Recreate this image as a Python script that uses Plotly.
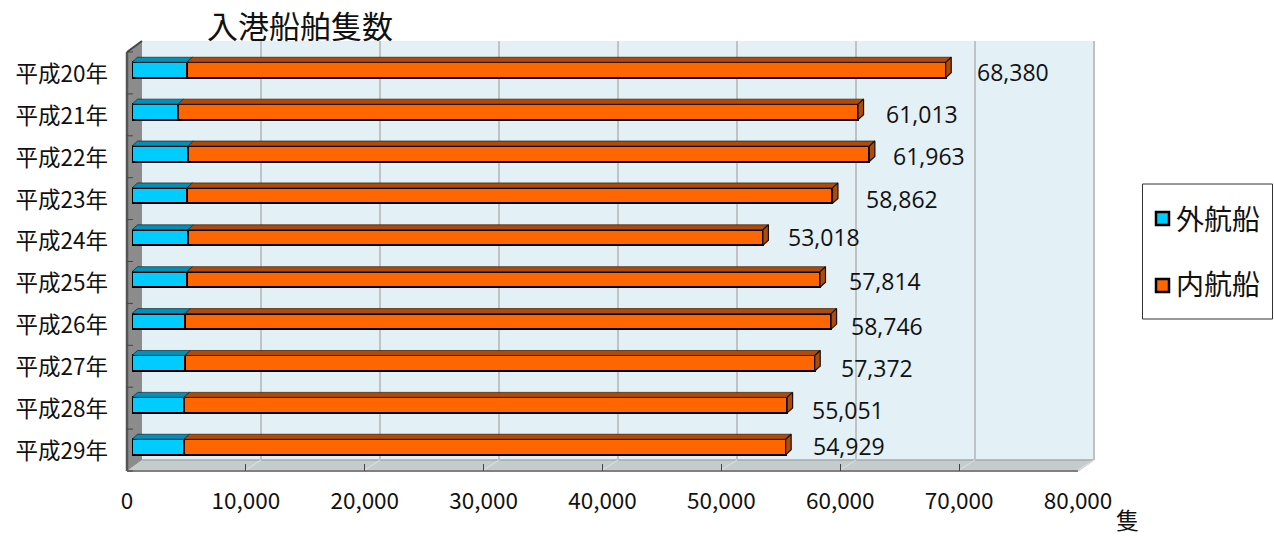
import plotly.graph_objects as go

years = ["平成20年","平成21年","平成22年","平成23年","平成24年","平成25年","平成26年","平成27年","平成28年","平成29年"]
foreign = [4620, 3870, 4700, 4620, 4700, 4620, 4450, 4450, 4370, 4370]
domestic = [63760, 57143, 57263, 54242, 48318, 53194, 54296, 52922, 50681, 50559]
totals = [68380, 61013, 61963, 58862, 53018, 57814, 58746, 57372, 55051, 54929]
x_ticks = [0, 10000, 20000, 30000, 40000, 50000, 60000, 70000, 80000]

# label placement relative to bar end (px)
label_dx = [67, 64, 60, 70, 61, 65, 56, 62, 61, 63]
label_dy = [2, 2, 2, 3, -1, 2, 5, 5, 5, -1]

W, H = 1274, 536
FX0, FX1, FY0, FY1 = 127, 1078, 52, 471   # front plane
BX0, BX1, BY0, BY1 = 142, 1094, 41, 460   # back wall
px = lambda x: x / W
py = lambda y: 1 - y / H
PXV = 0.0119  # px per unit on bar axis
BAR_W = 0.37
DX = 5.5 / PXV
DY = 5.0 / 41.9

def path(pts):
    return "M " + " L ".join(f"{px(a):.5f},{py(b):.5f}" for a, b in pts) + " Z"

shapes = [
    dict(type="rect", xref="paper", yref="paper", x0=px(BX0), x1=px(BX1), y0=py(BY1), y1=py(BY0),
         fillcolor="#E3F0F5", line=dict(width=0), layer="below"),
    dict(type="path", xref="paper", yref="paper",
         path=path([(FX0, FY1), (BX0, BY1), (BX1, BY1), (FX1, FY1)]),
         fillcolor="#C4CCCC", line=dict(width=0), layer="below"),
    dict(type="line", xref="paper", yref="paper", x0=px(BX0), x1=px(BX1), y0=py(BY1), y1=py(BY1),
         line=dict(color="#A3ABAD", width=1.5), layer="below"),
    dict(type="path", xref="paper", yref="paper",
         path=path([(FX0, FY0), (BX0, BY0), (BX0, BY1), (FX0, FY1)]),
         fillcolor="#8C8C8C", line=dict(width=0), layer="below"),
    dict(type="line", xref="paper", yref="paper", x0=px(FX0), x1=px(BX0), y0=py(FY0), y1=py(BY0),
         line=dict(color="#444444", width=2), layer="below"),
    dict(type="line", xref="paper", yref="paper", x0=px(FX0), x1=px(FX0), y0=py(FY0), y1=py(FY1),
         line=dict(color="#555555", width=2.5), layer="below"),
    dict(type="line", xref="paper", yref="paper", x0=px(FX0), x1=px(FX1), y0=py(FY1), y1=py(FY1),
         line=dict(color="#808080", width=2), layer="below"),
    dict(type="line", xref="paper", yref="paper", x0=px(FX1), x1=px(BX1), y0=py(FY1), y1=py(BY1),
         line=dict(color="#C8CFD2", width=1.5), layer="below"),
    dict(type="line", xref="paper", yref="paper", x0=px(BX1), x1=px(BX1), y0=py(BY0), y1=py(BY1),
         line=dict(color="#BFC3C6", width=2), layer="below"),
    # legend frame and swatches
    dict(type="rect", xref="paper", yref="paper", x0=px(1142.5), x1=px(1272.5), y0=py(319), y1=py(184),
         fillcolor="white", line=dict(color="#333333", width=1), layer="below"),
    dict(type="rect", xref="paper", yref="paper", x0=px(1156), x1=px(1169), y0=py(225), y1=py(212),
         fillcolor="#00CCFF", line=dict(color="#000000", width=2.5), layer="above"),
    dict(type="rect", xref="paper", yref="paper", x0=px(1156), x1=px(1169), y0=py(292), y1=py(279),
         fillcolor="#FF6600", line=dict(color="#000000", width=2.5), layer="above"),
]
# floor diagonals and left wall tick marks
for i in range(1, 9):
    fx = FX0 + (FX1 - FX0) * i / 8
    bx = BX0 + (BX1 - BX0) * i / 8
    shapes.append(dict(type="line", xref="paper", yref="paper", x0=px(fx), x1=px(bx), y0=py(FY1 - 1), y1=py(BY1),
                       line=dict(color="#DDE3E3", width=1), layer="below"))
for i in range(11):
    y = FY0 + (FY1 - FY0) * i / 10
    shapes.append(dict(type="line", xref="paper", yref="paper", x0=px(FX0), x1=px(FX0 + 6), y0=py(y), y1=py(y),
                       line=dict(color="#444444", width=1), layer="below"))

ys = list(range(len(years)))

def top_poly(starts, ends):
    xs, yy = [], []
    for y, a, b in zip(ys, starts, ends):
        t = y - BAR_W / 2
        xs += [a, b, b + DX, a + DX, a, None]
        yy += [t, t, t - DY, t - DY, t, None]
    return xs, yy

def side_poly(ends):
    xs, yy = [], []
    for y, b in zip(ys, ends):
        t, u = y - BAR_W / 2, y + BAR_W / 2
        xs += [b, b + DX, b + DX, b, b, None]
        yy += [t, t - DY, u - DY, u, t, None]
    return xs, yy

fig = go.Figure()
# grid subplot (back wall) and front tick subplot
fig.add_trace(go.Scatter(x=[None], y=[None], xaxis="x", yaxis="y", showlegend=False, hoverinfo="skip"))
fig.add_trace(go.Scatter(x=[None], y=[None], xaxis="x2", yaxis="y2", showlegend=False, hoverinfo="skip"))

tx, ty = top_poly([0] * 10, foreign)
fig.add_trace(go.Scatter(x=tx, y=ty, xaxis="x3", yaxis="y3", mode="lines", fill="toself", fillcolor="#0090B8",
                         line=dict(color="#0A2A35", width=0.7), showlegend=False, hoverinfo="skip"))
tx, ty = top_poly(foreign, totals)
fig.add_trace(go.Scatter(x=tx, y=ty, xaxis="x3", yaxis="y3", mode="lines", fill="toself", fillcolor="#B04A08",
                         line=dict(color="#3A1800", width=0.7), showlegend=False, hoverinfo="skip"))
tx, ty = side_poly(totals)
fig.add_trace(go.Scatter(x=tx, y=ty, xaxis="x3", yaxis="y3", mode="lines", fill="toself", fillcolor="#B04A08",
                         line=dict(color="#111111", width=1.2), showlegend=False, hoverinfo="skip"))
fig.add_trace(go.Bar(y=ys, x=foreign, orientation="h", width=BAR_W, xaxis="x3", yaxis="y3", name="外航船",
                     marker=dict(color="#00CCFF", line=dict(color="#000000", width=2)), showlegend=False))
fig.add_trace(go.Bar(y=ys, x=domestic, orientation="h", width=BAR_W, xaxis="x3", yaxis="y3", name="内航船",
                     marker=dict(color="#FF6600", line=dict(color="#000000", width=2)), showlegend=False))
# legend entries (swatches are drawn as squares inside the frame)
for name in ["外航船", "内航船"]:
    fig.add_trace(go.Scatter(x=[None], y=[None], xaxis="x3", yaxis="y3", mode="markers", name=name, legendgroup=name,
                             marker=dict(symbol="square", size=1, color="rgba(0,0,0,0)")))

CJK = "Noto Sans CJK JP"
annotations = [
    dict(x=t, y=y, xref="x3", yref="y3", text=f"{t:,}", showarrow=False, xanchor="center", yanchor="middle",
         xshift=dx, yshift=-dy, font=dict(family="Open Sans", size=23, color="#111111"))
    for y, t, dx, dy in zip(ys, totals, label_dx, label_dy)
]
annotations.append(dict(x=px(1127), y=py(518.5), xref="paper", yref="paper", text="隻", showarrow=False,
                        xanchor="center", yanchor="middle", font=dict(family=CJK, size=23, color="#111111")))

fig.update_layout(
    width=W, height=H, margin=dict(l=0, r=0, t=0, b=0, autoexpand=False), autosize=False,
    paper_bgcolor="white", plot_bgcolor="rgba(0,0,0,0)", barmode="stack", bargap=0.6,
    title=dict(text="入港船舶隻数", x=px(207), xanchor="left", xref="paper", y=py(27), yanchor="middle", yref="paper",
               font=dict(family=CJK, size=31, color="#111111")),
    shapes=shapes, annotations=annotations,
    legend=dict(x=px(1136), y=py(194), xref="container", yref="container", xanchor="left", yanchor="top",
                bgcolor="rgba(0,0,0,0)", borderwidth=0,
                tracegroupgap=26, entrywidth=60, entrywidthmode="pixels",
                font=dict(family=CJK, size=28, color="#111111")),
    # back wall gridlines
    xaxis=dict(domain=[px(BX0), px(BX1)], range=[0, 80000], tickvals=x_ticks, showgrid=True, gridcolor="#BFC3C6", gridwidth=2,
               showticklabels=False, zeroline=False, ticks="", anchor="y", fixedrange=True),
    yaxis=dict(domain=[py(BY1), py(BY0)], range=[0, 1], showgrid=False, showticklabels=False, zeroline=False, anchor="x", fixedrange=True),
    # front plane tick labels
    xaxis2=dict(domain=[px(FX0), px(FX1)], range=[0, 80000], tickvals=x_ticks, tickformat=",d", showgrid=False, zeroline=False,
                ticks="inside", ticklen=7, tickwidth=1, tickcolor="#444444", ticklabelstandoff=14, anchor="y2", showline=False,
                tickfont=dict(family=CJK, size=22.5, color="#111111"), fixedrange=True),
    yaxis2=dict(domain=[py(FY1), py(FY0)], range=[0, 1], showgrid=False, showticklabels=False, zeroline=False, anchor="x2", fixedrange=True),
    # bars
    xaxis3=dict(domain=[px(132), px(132 + 8e4 * PXV)], range=[0, 80000], visible=False, anchor="y3", fixedrange=True),
    yaxis3=dict(domain=[py(70 + 9.5 * 41.89), py(70 - 0.5 * 41.89)], range=[9.5, -0.5], tickvals=ys, ticktext=years, showgrid=False,
                zeroline=False, showline=False, ticks="", ticklabelstandoff=23, ticklabelshift=-4, anchor="x3",
                tickfont=dict(family=CJK, size=22.5, color="#111111"), fixedrange=True),
)

fig.write_html("out.html", config=dict(displayModeBar=False), post_script="document.body.style.margin='0';")
